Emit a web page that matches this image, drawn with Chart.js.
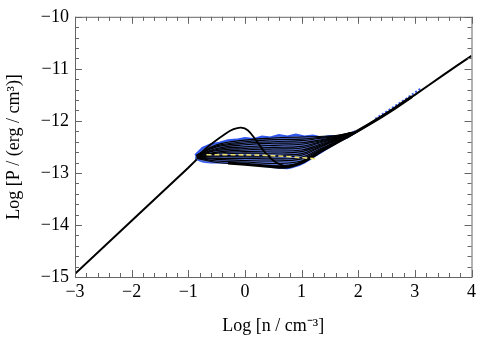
<!DOCTYPE html>
<html>
<head>
<meta charset="utf-8">
<script src="https://cdn.jsdelivr.net/npm/chart.js@4"></script>
<style>
  html, body { margin: 0; padding: 0; background: #fff; }
  #wrap { width: 480px; height: 342px; }
</style>
</head>
<body>
<div id="wrap"><canvas id="grafico"></canvas></div>
<script>
// eixos
const xTicks = [-3, -2, -1, 0, 1, 2, 3, 4];
const yTicks = [-15, -14, -13, -12, -11, -10];

// linha principal (isoterma + ramo quente)
const mainLowX = [-3, -2, -1, -0.85];
const mainLowY = [-14.94, -13.92, -12.9, -12.74];
const mainHighX = [1.8, 2.2, 2.5, 3.0, 3.5, 4.0];
const mainHighY = [-12.32, -12.06, -11.86, -11.5, -11.12, -10.75];

// borda inferior grossa onde as curvas se juntam
const bottomX = [-0.3, 0.3, 0.7, 1.0, 1.4, 1.8, 2.2, 2.6, 2.95];
const bottomY = [-12.81, -12.86, -12.89, -12.8, -12.55, -12.31, -12.06, -11.79, -11.53];
const speckX = [2.3, 2.6, 2.85, 3.1];
const speckY = [-11.96, -11.75, -11.57, -11.38];

// envelope azul
const envX = [-0.88, -0.75, -0.6, -0.45, -0.3, -0.15, 0, 0.15, 0.3, 0.45, 0.6, 0.75, 0.9, 1.05, 1.2, 1.35, 1.5, 1.65, 1.8, 1.95];
const envTop = [-12.66, -12.52, -12.45, -12.42, -12.37, -12.36, -12.33, -12.35, -12.3, -12.32, -12.27, -12.3, -12.26, -12.3, -12.28, -12.32, -12.29, -12.31, -12.27, -12.2];
const envBottom = [-12.72, -12.78, -12.8, -12.8, -12.8, -12.81, -12.82, -12.84, -12.86, -12.88, -12.9, -12.91, -12.87, -12.8, -12.7, -12.6, -12.5, -12.4, -12.32, -12.22];

// familia de curvas dentro do envelope
const lensX = [-0.85, -0.5, 0, 0.5, 1.0, 1.3, 1.6, 1.9];
const lensLines = [
    [-12.66, -12.46, -12.37, -12.33, -12.31, -12.30, -12.28, -12.22],
    [-12.66, -12.48, -12.40, -12.36, -12.35, -12.32, -12.29, -12.22],
    [-12.66, -12.50, -12.43, -12.40, -12.38, -12.34, -12.30, -12.22],
    [-12.67, -12.53, -12.46, -12.43, -12.42, -12.37, -12.31, -12.22],
    [-12.67, -12.55, -12.50, -12.47, -12.45, -12.39, -12.32, -12.23],
    [-12.67, -12.57, -12.53, -12.51, -12.49, -12.41, -12.33, -12.23],
    [-12.68, -12.60, -12.56, -12.54, -12.52, -12.43, -12.34, -12.23],
    [-12.68, -12.62, -12.59, -12.58, -12.56, -12.46, -12.35, -12.23],
    [-12.69, -12.64, -12.62, -12.62, -12.59, -12.48, -12.36, -12.24],
    [-12.69, -12.67, -12.66, -12.66, -12.63, -12.50, -12.37, -12.24],
    [-12.70, -12.69, -12.69, -12.69, -12.66, -12.52, -12.38, -12.24],
    [-12.70, -12.72, -12.72, -12.73, -12.70, -12.55, -12.40, -12.24],
    [-12.71, -12.74, -12.76, -12.77, -12.73, -12.57, -12.41, -12.25],
    [-12.71, -12.77, -12.79, -12.82, -12.77, -12.59, -12.42, -12.25],
    [-12.72, -12.80, -12.83, -12.87, -12.80, -12.61, -12.43, -12.25]
];

// curva com o pico
const bumpX = [-0.85, -0.6, -0.35, -0.2, -0.07, 0.05, 0.2, 0.35, 0.5, 0.65, 0.8];
const bumpY = [-12.68, -12.45, -12.25, -12.16, -12.13, -12.18, -12.38, -12.6, -12.76, -12.85, -12.89];

// linha amarela tracejada
const yellowX = [-0.68, -0.3, 0.3, 0.8, 1.27];
const yellowY = [-12.65, -12.65, -12.66, -12.69, -12.73];

const pts = (xs, ys) => xs.map((x, i) => ({ x: x, y: ys[i] }));
const fonte = "'Liberation Serif', 'Times New Roman', serif";
const menos = v => String(v).replace('-', '\u2212');

function linha(xs, ys, cor, largura, ordem, extra) {
    return Object.assign({
        data: pts(xs, ys),
        borderColor: cor,
        borderWidth: largura,
        pointRadius: 0,
        tension: 0.4,
        fill: false,
        order: ordem
    }, extra || {});
}

const datasets = [
    linha(envX, envTop, '#2e55ee', 2, 20, { fill: '+1', backgroundColor: '#5a73d0', tension: 0 }),
    linha(envX, envBottom, '#2e55ee', 2, 21, { tension: 0.2 }),
    linha(speckX, speckY, '#3a5ff0', 2, 15, { tension: 0, borderDash: [2, 2] }),
    linha(bottomX, bottomY, '#000', 3, 6, { tension: 0.3 })
];
lensLines.forEach(ys => datasets.push(linha(lensX, ys, '#000', 1.1, 10)));
datasets.push(linha(mainLowX, mainLowY, '#000', 2, 5, { tension: 0 }));
datasets.push(linha(mainHighX, mainHighY, '#000', 2, 5, { tension: 0.2 }));
datasets.push(linha(bumpX, bumpY, '#000', 1.8, 3));
datasets.push(linha(yellowX, yellowY, '#eee070', 1.6, 1, { borderDash: [5, 3] }));

// moldura com marcas internas nos quatro lados
const moldura = {
    id: 'moldura',
    afterDraw(chart) {
        const { ctx, chartArea: a, scales } = chart;
        ctx.save();
        ctx.strokeStyle = '#666';
        ctx.lineWidth = 1;
        ctx.strokeRect(a.left + 0.5, a.top + 0.5, a.right - a.left, a.bottom - a.top);
        ctx.beginPath();
        for (let k = 0; k <= 35; k++) {
            const v = -3 + k * 0.2;
            const px = Math.round(scales.x.getPixelForValue(v)) + 0.5;
            const len = k % 5 === 0 ? 7 : 4;
            ctx.moveTo(px, a.bottom); ctx.lineTo(px, a.bottom - len);
            ctx.moveTo(px, a.top); ctx.lineTo(px, a.top + len);
        }
        for (let k = 0; k <= 25; k++) {
            const v = -15 + k * 0.2;
            const py = Math.round(scales.y.getPixelForValue(v)) + 0.5;
            const len = k % 5 === 0 ? 7 : 4;
            ctx.moveTo(a.left, py); ctx.lineTo(a.left + len, py);
            ctx.moveTo(a.right, py); ctx.lineTo(a.right - len, py);
        }
        ctx.stroke();
        ctx.restore();
    }
};

new Chart(document.getElementById('grafico'), {
    type: 'line',
    data: { datasets: datasets },
    options: {
        responsive: true,
        maintainAspectRatio: false,
        animation: false,
        events: [],
        layout: { padding: { top: 13, right: 7, left: 0, bottom: 0 } },
        plugins: {
            legend: { display: false },
            tooltip: { enabled: false }
        },
        scales: {
            x: {
                type: 'linear',
                min: -3,
                max: 4,
                afterBuildTicks: s => { s.ticks = xTicks.map(v => ({ value: v })); },
                afterFit: s => { s.height = 65; },
                grid: { display: false, drawTicks: false },
                border: { display: false },
                ticks: {
                    color: '#000',
                    padding: 4,
                    maxRotation: 0,
                    font: { family: fonte, size: 18 },
                    callback: v => menos(v)
                },
                title: {
                    display: true,
                    text: 'Log [n / cm\u207B\u00B3]',
                    color: '#000',
                    font: { family: fonte, size: 18 },
                    padding: { top: 0, bottom: 5 }
                }
            },
            y: {
                type: 'linear',
                min: -15,
                max: -10,
                afterBuildTicks: s => { s.ticks = yTicks.map(v => ({ value: v })); },
                afterFit: s => { s.width = 75; },
                grid: { display: false, drawTicks: false },
                border: { display: false },
                ticks: {
                    color: '#000',
                    padding: 6,
                    font: { family: fonte, size: 18 },
                    callback: v => menos(v)
                },
                title: {
                    display: true,
                    text: 'Log [P / (erg / cm\u00B3)]',
                    color: '#000',
                    font: { family: fonte, size: 18 },
                    padding: { top: 3, bottom: 0 }
                }
            }
        }
    },
    plugins: [moldura]
});
</script>
</body>
</html>
